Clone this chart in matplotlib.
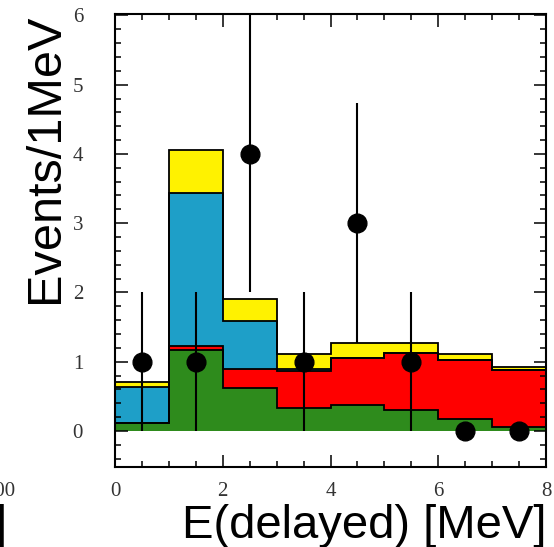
import numpy as np
import matplotlib
matplotlib.use("Agg")
import matplotlib.pyplot as plt

# bin edges of E(delayed) in MeV
edges = [0, 1, 2, 3, 4, 5, 6, 7, 8]

# stacked background components, per bin (events / 1 MeV)
green = [0.12, 1.17, 0.62, 0.33, 0.375, 0.31, 0.17, 0.06]
red = [0.0, 0.05, 0.28, 0.54, 0.685, 0.81, 0.86, 0.82]
blue = [0.52, 2.22, 0.69, 0.02, 0.0, 0.0, 0.0, 0.0]
yellow = [0.06, 0.61, 0.32, 0.22, 0.21, 0.15, 0.08, 0.05]

# observed events
e_centers = [0.5, 1.5, 2.5, 3.5, 4.5, 5.5, 6.5, 7.5]
counts = [1, 1, 4, 1, 3, 1, 0, 0]
errors = [1, 1, 2, 1, 1.73, 1, 0, 0]

c_green = "#2e8b1c"
c_red = "#ff0000"
c_blue = "#1e9fc8"
c_yellow = "#fff200"

fig = plt.figure(figsize=(5.54, 5.47), dpi=100)
ax = fig.add_axes([115/554, 1 - 467/547, (546-115)/554, (467-14)/547])

s1 = np.array(green)
s2 = s1 + np.array(red)
s3 = s2 + np.array(blue)
s4 = s3 + np.array(yellow)

# draw from the total down so each layer covers the one above
for top, col in [(s4, c_yellow), (s3, c_blue), (s2, c_red), (s1, c_green)]:
    ax.stairs(top, edges, fill=True, color=col, linewidth=0, zorder=1)
    ax.stairs(top, edges, fill=False, baseline=None, color="black", linewidth=1.3, zorder=2)

ax.errorbar(e_centers, counts, yerr=errors, fmt="o", color="black",
            markersize=13.5, elinewidth=1.5, capsize=0, zorder=3)

ax.set_xlim(0, 8)
ax.set_ylim(-0.52, 6.02)
ax.set_xticks([0, 2, 4, 6, 8])
ax.set_xticks(np.arange(0, 8.01, 0.5), minor=True)
ax.set_yticks([0, 1, 2, 3, 4, 5, 6])
ax.set_yticks(np.arange(-0.4, 6.01, 0.2), minor=True)

for sp in ax.spines.values():
    sp.set_linewidth(1.5)

ax.tick_params(which="both", direction="in", top=True, right=True, width=1.1,
               labelsize=15, labelcolor="#333333")
ax.tick_params(which="major", length=9)
ax.tick_params(which="minor", length=4.5)
ax.tick_params(axis="y", which="both", pad=23)
ax.tick_params(axis="x", which="both", pad=11)
for lab in ax.get_xticklabels() + ax.get_yticklabels():
    lab.set_fontfamily("Liberation Serif")

fig.text(547/554, 1 - 538/547, "E(delayed) [MeV]", ha="right", va="baseline",
         fontsize=34, family="Liberation Sans")
fig.text(23/554, 1 - 14/547, "Events/1MeV", ha="left", va="top", rotation=90,
         fontsize=35, family="Liberation Sans")

# pieces of the neighbouring panel at the left edge
fig.text(15/554, 1 - 491/547, "800", ha="right", va="center", fontsize=15,
         family="Liberation Serif", color="#333333")
fig.text(7/554, 1 - 538/547, "]", ha="right", va="baseline", fontsize=34,
         family="Liberation Sans")

fig.savefig("out.png", dpi=100)
